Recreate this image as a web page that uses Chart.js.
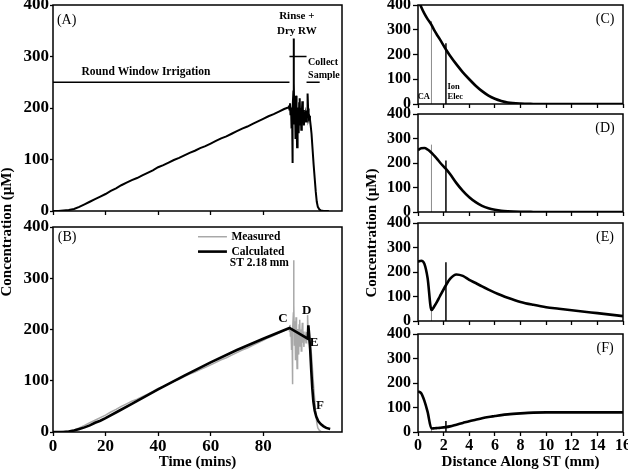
<!DOCTYPE html>
<html>
<head>
<meta charset="utf-8">
<script src="https://cdn.jsdelivr.net/npm/chart.js@4.4.1/dist/chart.umd.min.js"></script>
<style>
  body { margin: 0; background: #fff; overflow: hidden; }
  #wrap { position: relative; width: 628px; height: 475px; }
  #wrap canvas { position: absolute; left: 0; top: 0; }
  .ytitle { position: absolute; width: 200px; height: 20px; line-height: 20px; text-align: center;
            font: bold 15px 'Liberation Serif', 'Times New Roman', serif; color: #000;
            transform: rotate(-90deg); white-space: nowrap; }
</style>
</head>
<body>
<div id="wrap">
  <canvas id="cA" width="628" height="475"></canvas>
  <canvas id="cB" width="628" height="475"></canvas>
  <canvas id="cC" width="628" height="475"></canvas>
  <canvas id="cD" width="628" height="475"></canvas>
  <canvas id="cE" width="628" height="475"></canvas>
  <canvas id="cF" width="628" height="475"></canvas>
  <div class="ytitle" style="left:-92px; top:222px;">Concentration (µM)</div>
  <div class="ytitle" style="left:273px; top:223px;">Concentration (µM)</div>
</div>
<script>
// ---- measured trace (panel A, grey in B): time in mins, conc in uM
const measTime = [
  0, 2, 4, 6, 8, 10, 12, 14, 16, 18,
  20, 22, 24, 26, 28, 30, 32, 34, 36, 38,
  40, 42, 44, 46, 48, 50, 52, 54, 56, 58,
  60, 62, 64, 66, 68, 70, 72, 74, 76, 78,
  80, 82, 84, 86, 88, 89,
  89.6, 89.8, 90.0, 90.2, 90.4, 90.6, 90.8, 91.0, 91.1, 91.3,
  91.5, 91.6, 91.7, 91.9, 92.1, 92.3, 92.5, 92.7, 92.9, 93.1,
  93.3, 93.5, 93.7, 93.9, 94.1, 94.3, 94.5, 94.7, 94.9, 95.1,
  95.3, 95.5, 95.7, 95.9, 96.1, 96.3, 96.5, 96.7, 96.9, 97.1,
  97.3, 97.5, 97.8, 98.1, 98.4, 98.8, 99.2, 99.6, 100.0, 100.4,
  100.8, 101.4, 102, 103, 105
];
const measConc = [
  0, 0, 1, 2, 4, 8, 13, 18, 23, 28,
  33, 39, 44, 50, 55, 60, 64, 69, 74, 79,
  85, 89, 94, 99, 103, 108, 113, 117, 122, 126,
  131, 136, 141, 145, 150, 155, 160, 164, 169, 174,
  179, 184, 188, 193, 198, 200,
  201, 205, 197, 209, 186, 201, 160, 191, 93, 200,
  232, 335, 248, 170, 216, 140, 224, 178, 124, 201,
  188, 151, 209, 219, 168, 200, 158, 191, 213, 174,
  196, 166, 190, 179, 186, 174, 195, 182, 228, 199,
  181, 185, 178, 165, 150, 120, 90, 64, 38, 18,
  8, 3, 1, 0, 0
];

// ---- calculated at ST 2.18 mm (panel B)
const calcTime = [0, 4, 6, 8, 10, 12, 14, 16, 18, 20,
  25, 30, 35, 40, 50, 60, 70, 80, 90,
  97, 97.2, 97.5, 97.9, 98.3, 98.7, 99.1, 99.6, 100.2, 101,
  102, 103, 104, 105.5];
const calcConc = [0, 0, 1, 3, 6, 9, 13, 18, 22, 27,
  41, 55, 69, 83, 110, 136, 160, 182, 203,
  182, 208, 190, 160, 120, 85, 60, 42, 30, 21,
  15, 11, 8, 6];

// ---- irrigation periods (panel A)
const rwTime = [0, 90];        const rwLevel = 250;
const rinseTime = [90, 96.5];  const rinseLevel = 300;
const collectTime = [96.5, 101.5]; const collectLevel = 250;

// ---- profiles along scala tympani (panels C-F)
const dist = [0, 0.25, 0.5, 0.75, 1.05, 1.3, 1.5, 1.7, 2.18, 2.5,
  3, 3.5, 4, 4.5, 5, 5.5, 6, 6.5, 7, 8, 9, 10, 11, 12, 13, 14, 15, 16];
const concC = [425, 392, 365, 343, 320, 295, 278, 262, 220, 195,
  160, 128, 100, 74, 52, 34, 21, 12, 6, 1.5, 0.3, 0, 0, 0, 0, 0, 0, 0];
const concD = [253, 260, 261, 255, 242, 228, 216, 203, 176, 155,
  118, 86, 60, 40, 25, 15, 9, 5, 3, 1, 0.3, 0, 0, 0, 0, 0, 0, 0];
const concE = [242, 246, 233, 175, 45, 62, 80, 100, 146, 172,
  190, 184, 168, 155, 141, 128, 116, 105, 95, 78, 66, 56, 50, 44, 38, 32, 26, 20];
const concF = [166, 158, 127, 82, 14, 15, 16, 17, 20, 23,
  30, 37, 44, 50, 56, 61, 65, 69, 72, 76, 79, 80, 80, 80, 80, 80, 80, 80];

// CA (grey) and ion electrode (black) marker positions, tops per panel C..F
const caPos = 1.05;  const caTop = [335, 275, 45, 14];
const iePos = 2.18;  const ieTop = [245, 210, 240, 45];

const W = 628, H = 475;
const SERIF = "'Liberation Serif', 'Times New Roman', serif";
const pts = (xs, ys) => xs.map((v, i) => ({ x: v, y: ys[i] }));
const flat = (xs, lvl) => xs.map(v => ({ x: v, y: lvl }));
const vert = (xv, top) => [{ x: xv, y: 0 }, { x: xv, y: top }];

// frame + text notes drawn in data coordinates
Chart.register({
  id: 'notes',
  afterDatasetsDraw(chart, args, opts) {
    const { ctx, chartArea: a } = chart;
    const xs = chart.scales.x, ys = chart.scales.y;
    ctx.save();
    ctx.strokeStyle = '#000';
    ctx.lineWidth = 1.5;
    ctx.strokeRect(a.left, a.top, a.right - a.left, a.bottom - a.top);
    (opts.keys || []).forEach(k => {
      ctx.strokeStyle = k.color;
      ctx.lineWidth = k.width;
      ctx.beginPath();
      ctx.moveTo(xs.getPixelForValue(k.x0), ys.getPixelForValue(k.y));
      ctx.lineTo(xs.getPixelForValue(k.x1), ys.getPixelForValue(k.y));
      ctx.stroke();
    });
    ctx.fillStyle = '#000';
    ctx.textBaseline = 'middle';
    (opts.items || []).forEach(n => {
      ctx.font = n.font;
      ctx.textAlign = n.align || 'left';
      ctx.fillText(n.text, xs.getPixelForValue(n.x), ys.getPixelForValue(n.y));
    });
    ctx.restore();
  }
});

function panel(id, box, xr, sets, notes, opt) {
  const tickFont = { family: SERIF, weight: 'bold', size: opt.tickSize };
  return new Chart(document.getElementById(id), {
    type: 'line',
    data: { datasets: sets },
    options: {
      responsive: false,
      animation: false,
      events: [],
      layout: { padding: { left: 0, top: box.top, right: W - box.right, bottom: 0 } },
      elements: { point: { radius: 0 }, line: { tension: 0, borderCapStyle: 'butt' } },
      plugins: { legend: { display: false }, tooltip: { enabled: false }, notes: notes },
      scales: {
        x: {
          type: 'linear', min: xr.min, max: xr.max,
          ticks: { stepSize: xr.step, display: opt.xLabels, color: '#000', font: tickFont, padding: 0, maxRotation: 0 },
          grid: { drawOnChartArea: false, tickLength: 4, tickColor: '#000', tickWidth: 1.3 },
          border: { display: false },
          title: { display: !!opt.xTitle, text: opt.xTitle || '', color: '#000',
                   font: { family: SERIF, weight: 'bold', size: 15 }, padding: { top: 0, bottom: 4 } },
          afterBuildTicks: s => { s.ticks = s.ticks.filter(t => Math.abs(t.value % xr.step) < 1e-6); },
          afterFit: s => { s.height = H - box.bottom; s.paddingLeft = 0; s.paddingRight = 0; }
        },
        y: {
          min: 0, max: 400,
          ticks: { stepSize: 100, color: '#000', font: tickFont, padding: opt.yPad },
          grid: { drawOnChartArea: false, tickLength: opt.yTick, tickColor: '#000', tickWidth: 1.3 },
          border: { display: false },
          afterFit: s => { s.width = box.left; s.paddingTop = 0; s.paddingBottom = 0; }
        }
      }
    }
  });
}

const fNote = (size, bold) => (bold ? 'bold ' : '') + size + 'px ' + SERIF;
const leftX = { min: 0, max: 110, step: 20 };
const rightX = { min: 0, max: 16, step: 2 };
const leftOpt = { tickSize: 17, yTick: 3, yPad: 1 };
const rightOpt = { tickSize: 16, yTick: 5, yPad: 2 };

// ---- (A)
panel('cA', { left: 53, top: 5, right: 342, bottom: 211 }, leftX, [
  { data: pts(measTime, measConc), borderColor: '#000', borderWidth: 2 },
  { data: flat(rwTime, rwLevel), borderColor: '#000', borderWidth: 1.5 },
  { data: flat(rinseTime, rinseLevel), borderColor: '#000', borderWidth: 1.5 },
  { data: flat(collectTime, collectLevel), borderColor: '#000', borderWidth: 1.5 }
], {
  items: [
    { text: '(A)', x: 1.5, y: 371, font: fNote(14, false) },
    { text: 'Round Window Irrigation', x: 35.4, y: 270, font: fNote(11.5, true), align: 'center' },
    { text: 'Rinse +', x: 92.8, y: 379, font: fNote(11, true), align: 'center' },
    { text: 'Dry RW', x: 92.8, y: 350, font: fNote(11, true), align: 'center' },
    { text: 'Collect', x: 97.1, y: 288, font: fNote(10, true) },
    { text: 'Sample', x: 97.1, y: 264, font: fNote(10, true) }
  ]
}, Object.assign({ xLabels: false }, leftOpt));

// ---- (B)
panel('cB', { left: 53, top: 227, right: 342, bottom: 432 }, leftX, [
  { data: pts(calcTime, calcConc), borderColor: '#000', borderWidth: 2.6 },
  { data: pts(measTime, measConc), borderColor: '#a8a8a8', borderWidth: 1.5 }
], {
  keys: [
    { x0: 55.2, x1: 66.2, y: 381, color: '#a8a8a8', width: 1.5 },
    { x0: 55.2, x1: 66.2, y: 352, color: '#000', width: 2.6 }
  ],
  items: [
    { text: '(B)', x: 1.8, y: 380, font: fNote(14, false) },
    { text: 'Measured', x: 67.9, y: 381, font: fNote(11.5, true) },
    { text: 'Calculated', x: 67.9, y: 352, font: fNote(11.5, true) },
    { text: 'ST 2.18 mm', x: 67.3, y: 329, font: fNote(11.5, true) },
    { text: 'C', x: 87.5, y: 222, font: fNote(13, true), align: 'center' },
    { text: 'D', x: 96.6, y: 236, font: fNote(13, true), align: 'center' },
    { text: 'E', x: 99.4, y: 174, font: fNote(13, true), align: 'center' },
    { text: 'F', x: 101.6, y: 51, font: fNote(13, true), align: 'center' }
  ]
}, Object.assign({ xLabels: true, xTitle: 'Time (mins)' }, leftOpt));

// ---- (C)-(F)
const profiles = [concC, concD, concE, concF];
const boxes = [
  { left: 418, top: 5, right: 623, bottom: 104 },
  { left: 418, top: 114, right: 623, bottom: 212 },
  { left: 418, top: 223, right: 623, bottom: 321 },
  { left: 418, top: 334, right: 623, bottom: 432 }
];
const tags = ['(C)', '(D)', '(E)', '(F)'];
['cC', 'cD', 'cE', 'cF'].forEach((id, i) => {
  const items = [{ text: tags[i], x: 14.6, y: 343, font: fNote(14, false), align: 'center' }];
  if (i === 0) {
    items.push({ text: 'CA', x: 0.45, y: 30, font: fNote(8.5, true), align: 'center' });
    items.push({ text: 'Ion', x: 2.3, y: 70, font: fNote(8.5, true) });
    items.push({ text: 'Elec', x: 2.3, y: 28, font: fNote(8.5, true) });
  }
  const last = i === 3;
  panel(id, boxes[i], rightX, [
    { data: pts(dist, profiles[i]), borderColor: '#000', borderWidth: 2.6, cubicInterpolationMode: 'monotone' },
    { data: vert(caPos, caTop[i]), borderColor: '#8c8c8c', borderWidth: 1 },
    { data: vert(iePos, ieTop[i]), borderColor: '#000', borderWidth: 1.5 }
  ], { items: items },
  Object.assign({ xLabels: last, xTitle: last ? 'Distance Along ST (mm)' : '' }, rightOpt));
});
</script>
</body>
</html>
